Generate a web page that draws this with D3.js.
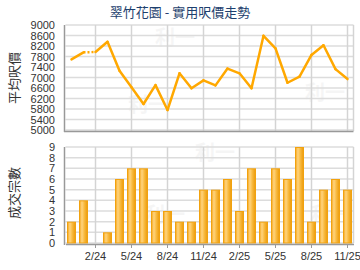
<!DOCTYPE html>
<html>
<head>
<meta charset="utf-8">
<script src="https://cdn.jsdelivr.net/npm/d3@7"></script>
<style>
  body { margin: 0; background: #fff; }
  text { font-family: "Liberation Sans", Arial, sans-serif; }
</style>
</head>
<body>
<div class="chart"></div>
<script>
const months = ['12/23', '1/24', '2/24', '3/24', '4/24', '5/24', '6/24', '7/24', '8/24', '9/24', '10/24', '11/24',
  '12/24', '1/25', '2/25', '3/25', '4/25', '5/25', '6/25', '7/25', '8/25', '9/25', '10/25', '11/25'];
const tickMonths = ['2/24', '5/24', '8/24', '11/24', '2/25', '5/25', '8/25', '11/25'];
const prices = [7690, 7960, 7970, 8360, 7260, 6630, 5990, 6710, 5760, 7160, 6590, 6890,
  6700, 7340, 7160, 6590, 8590, 8110, 6800, 7030, 7860, 8230, 7320, 6940];
const deals = [2, 4, 0, 1, 6, 7, 7, 3, 3, 2, 2, 5, 5, 6, 3, 7, 2, 7, 6, 9, 2, 5, 6, 5];
const priceTicks = [5000, 5400, 5800, 6200, 6600, 7000, 7400, 7800, 8200, 8600, 9000];
const dealTicks = [0, 1, 2, 3, 4, 5, 6, 7, 8, 9];

const width = 360;
const height = 270;
const left = 65.5, right = 353.5;

const svg = d3.select('.chart').append('svg')
  .attr('width', width)
  .attr('height', height);

const defs = svg.append('defs');
const grad = defs.append('linearGradient').attr('id', 'barGrad')
  .attr('x1', '0%').attr('x2', '100%').attr('y1', '0%').attr('y2', '0%');
grad.append('stop').attr('offset', '0%').attr('stop-color', '#f4a51c');
grad.append('stop').attr('offset', '30%').attr('stop-color', '#ffd47e');
grad.append('stop').attr('offset', '65%').attr('stop-color', '#f7b637');
grad.append('stop').attr('offset', '100%').attr('stop-color', '#eb9a0c');

const x = d3.scaleBand().domain(months).range([left, right]).paddingInner(0.25).paddingOuter(0.125);
const xc = d => x(d) + x.bandwidth() / 2;

const yPrice = d3.scaleLinear().domain([5000, 9000]).range([130, 25]);
const yDeal = d3.scaleLinear().domain([0, 9]).range([243, 147]);

// title
svg.append('text')
  .attr('x', 180).attr('y', 17)
  .attr('text-anchor', 'middle')
  .style('font-family', '"Noto Sans CJK TC", sans-serif')
  .style('font-size', '13px')
  .attr('fill', '#1d3f6e')
  .text('翠竹花園 - 實用呎價走勢');

// faint watermarks
[[175, 45], [148, 112], [325, 100], [215, 160], [165, 222], [330, 222]].forEach(([mx, my]) => {
  svg.append('text')
    .attr('x', mx).attr('y', my)
    .attr('text-anchor', 'middle')
    .style('font-family', '"Noto Sans CJK TC", sans-serif')
    .style('font-size', '20px')
    .style('font-weight', 'bold')
    .attr('fill', '#000')
    .attr('opacity', 0.035)
    .text('利一');
});

function panel(y, ticks, top, bottom) {
  const g = svg.append('g');
  // horizontal grid
  g.selectAll('.hgrid')
    .data(ticks)
    .enter().append('line')
    .attr('x1', left).attr('x2', right)
    .attr('y1', d => y(d)).attr('y2', d => y(d))
    .attr('stroke', '#dcdcdc').attr('stroke-width', 1.5);
  // vertical grid
  g.selectAll('.vgrid')
    .data(tickMonths)
    .enter().append('line')
    .attr('x1', d => xc(d)).attr('x2', d => xc(d))
    .attr('y1', top).attr('y2', bottom)
    .attr('stroke', '#d4d4d4').attr('stroke-width', 1.5);
  g.append('line')
    .attr('x1', right).attr('x2', right).attr('y1', top).attr('y2', bottom)
    .attr('stroke', '#d4d4d4').attr('stroke-width', 1.5);
  // tick labels
  g.selectAll('.ylab')
    .data(ticks)
    .enter().append('text')
    .attr('x', 55).attr('y', d => y(d) + 4)
    .attr('text-anchor', 'end')
    .style('font-size', '11px')
    .attr('fill', '#333')
    .text(d => d);
  return g;
}

// price panel
panel(yPrice, priceTicks, 25, 131);

const line = d3.line().x(d => xc(d.m)).y(d => yPrice(d.v));
const pts = months.map((m, i) => ({ m, v: prices[i], n: deals[i] }));
// segment into a month with no deals is dotted
for (let i = 1; i < pts.length; i++) {
  const dotted = pts[i].n === 0;
  svg.append('path')
    .datum([pts[i - 1], pts[i]])
    .attr('d', line)
    .attr('fill', 'none')
    .attr('stroke', '#ffa800')
    .attr('stroke-width', 2.5)
    .attr('stroke-linecap', dotted ? 'butt' : 'round')
    .attr('stroke-dasharray', dotted ? '2,2' : null);
}

// deal panel
panel(yDeal, dealTicks, 147, 243);

svg.selectAll('.bar')
  .data(pts.filter(d => d.n > 0))
  .enter().append('rect')
  .attr('x', d => x(d.m) + 0.5)
  .attr('width', x.bandwidth() - 1)
  .attr('y', d => yDeal(d.n) + 0.5)
  .attr('height', d => yDeal(0) - yDeal(d.n) - 0.5)
  .attr('fill', 'url(#barGrad)')
  .attr('stroke', '#f2a20e')
  .attr('stroke-width', 1);

// axes lines
svg.append('line').attr('x1', 64.5).attr('x2', 64.5).attr('y1', 25).attr('y2', 132)
  .attr('stroke', '#999').attr('stroke-width', 1.5);
svg.append('line').attr('x1', 64).attr('x2', right).attr('y1', 131.5).attr('y2', 131.5)
  .attr('stroke', '#999').attr('stroke-width', 1.5);
svg.append('line').attr('x1', 64.5).attr('x2', 64.5).attr('y1', 147).attr('y2', 245)
  .attr('stroke', '#999').attr('stroke-width', 1.5);

const xAxis = svg.append('g')
  .attr('transform', 'translate(0,244)')
  .call(d3.axisBottom(x).tickValues(tickMonths).tickSize(4).tickSizeOuter(0));
xAxis.select('.domain').attr('stroke', '#999').attr('stroke-width', 1.5);
xAxis.selectAll('.tick line').attr('stroke', '#999');
xAxis.selectAll('.tick text')
  .attr('y', 8)
  .style('font-size', '11px')
  .style('font-family', '"Liberation Sans", Arial, sans-serif')
  .attr('fill', '#333');

// y titles
[['平均呎價', 78], ['成交宗數', 193]].forEach(([t, cy]) => {
  svg.append('text')
    .attr('transform', `translate(19, ${cy}) rotate(-90)`)
    .attr('text-anchor', 'middle')
    .style('font-family', '"Noto Sans CJK TC", sans-serif')
    .style('font-size', '13px')
    .attr('fill', '#333')
    .text(t);
});
</script>
</body>
</html>
